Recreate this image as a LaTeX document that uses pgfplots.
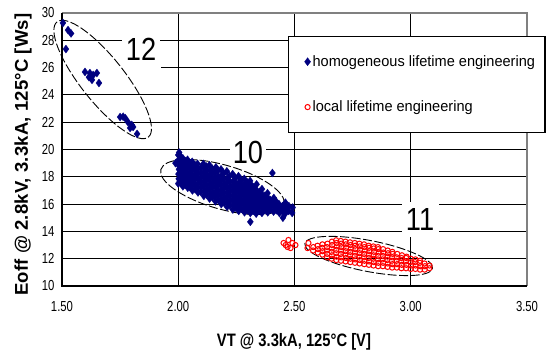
\documentclass[border=0pt]{standalone}
\usepackage{pgfplots}
\pgfplotsset{compat=1.18}
\usepackage{fontspec}
\setmainfont{Liberation Sans}
\newfontfamily\tickfont[FakeStretch=0.78]{Liberation Sans}
\newfontfamily\legfont[FakeStretch=0.97]{Liberation Sans}
\newfontfamily\labfont[FakeStretch=0.82]{Liberation Sans}
\newfontfamily\ylabfont[LetterSpace=1]{Liberation Sans}
\newfontfamily\annfont[FakeStretch=0.85]{Liberation Sans}
\usetikzlibrary{shapes.geometric}
\definecolor{navy}{HTML}{000080}
\definecolor{framegray}{HTML}{808080}

\pgfplotstableread{
x y
1.504 29.27
1.526 28.75
1.539 28.50
1.517 27.36
1.599 25.68
1.620 25.60
1.650 25.60
1.629 25.10
1.616 25.30
1.659 24.87
1.634 25.46
1.750 22.38
1.772 22.30
1.784 22.00
1.800 21.80
1.793 21.58
1.806 21.65
1.823 21.14
1.763 22.40
}\groupA

\pgfplotstableread{
x y
1.988 19.00
2.000 17.50
2.002 17.85
2.001 18.20
2.003 18.55
1.999 18.90
2.002 19.25
2.000 19.60
2.004 19.78
2.020 17.30
2.022 17.65
2.019 18.00
2.021 18.35
2.018 18.70
2.022 19.05
2.020 19.35
2.041 17.20
2.039 17.55
2.042 17.90
2.040 18.25
2.038 18.60
2.041 18.95
2.040 19.25
2.061 17.00
2.059 17.35
2.062 17.70
2.060 18.05
2.058 18.40
2.061 18.75
2.060 19.10
2.085 16.85
2.083 17.20
2.087 17.55
2.084 17.90
2.086 18.25
2.085 18.60
2.083 18.95
2.110 16.60
2.112 16.95
2.108 17.30
2.111 17.65
2.109 18.00
2.112 18.35
2.110 18.70
2.108 18.95
2.135 16.40
2.137 16.75
2.133 17.10
2.136 17.45
2.134 17.80
2.135 18.15
2.137 18.50
2.134 18.85
2.160 16.20
2.158 16.55
2.162 16.90
2.159 17.25
2.161 17.60
2.160 17.95
2.158 18.30
2.162 18.70
2.185 16.00
2.187 16.35
2.183 16.70
2.186 17.05
2.184 17.40
2.185 17.75
2.187 18.10
2.184 18.55
2.210 15.80
2.212 16.15
2.208 16.50
2.211 16.85
2.209 17.20
2.210 17.55
2.212 17.90
2.209 18.40
2.235 15.60
2.237 15.95
2.233 16.30
2.236 16.65
2.234 17.00
2.235 17.35
2.237 17.70
2.234 18.20
2.260 15.50
2.262 15.85
2.258 16.20
2.261 16.55
2.259 16.90
2.260 17.25
2.262 17.60
2.259 18.05
2.285 15.40
2.287 15.75
2.283 16.10
2.286 16.45
2.284 16.80
2.285 17.15
2.287 17.50
2.284 17.85
2.310 15.35
2.312 15.70
2.308 16.05
2.311 16.40
2.309 16.75
2.310 17.10
2.312 17.45
2.309 17.70
2.335 15.30
2.337 15.65
2.333 16.00
2.336 16.35
2.334 16.70
2.335 17.05
2.337 17.45
2.360 15.35
2.362 15.70
2.358 16.05
2.361 16.40
2.359 16.75
2.360 17.10
2.385 15.40
2.387 15.75
2.383 16.10
2.386 16.45
2.384 16.80
2.410 15.45
2.412 15.80
2.408 16.15
2.411 16.45
2.435 15.35
2.437 15.70
2.433 16.00
2.460 15.30
2.462 15.65
2.458 15.95
2.461 16.10
2.490 15.35
2.492 15.75
2.405 18.28
2.310 14.70
2.450 15.00
2.010 17.55
2.011 17.95
2.009 18.35
2.010 18.75
2.012 19.15
2.010 19.50
2.030 17.40
2.031 17.75
2.029 18.10
2.030 18.45
2.032 18.80
2.030 19.15
2.050 17.25
2.051 17.60
2.049 17.95
2.050 18.30
2.052 18.65
2.050 19.00
2.072 17.10
2.073 17.45
2.071 17.80
2.072 18.15
2.074 18.50
2.072 18.85
2.097 16.90
2.098 17.25
2.096 17.60
2.097 17.95
2.099 18.30
2.097 18.65
2.122 16.70
2.123 17.05
2.121 17.40
2.122 17.75
2.124 18.10
2.122 18.45
2.121 18.75
2.147 16.50
2.148 16.85
2.146 17.20
2.147 17.55
2.149 17.90
2.147 18.25
2.146 18.60
2.172 16.30
2.173 16.65
2.171 17.00
2.172 17.35
2.174 17.70
2.172 18.05
2.171 18.45
2.197 16.10
2.198 16.45
2.196 16.80
2.197 17.15
2.199 17.50
2.197 17.85
2.196 18.25
2.222 15.90
2.223 16.25
2.221 16.60
2.222 16.95
2.224 17.30
2.222 17.65
2.221 18.05
2.247 15.75
2.248 16.10
2.246 16.45
2.247 16.80
2.249 17.15
2.247 17.50
2.246 17.90
2.272 15.65
2.273 16.00
2.271 16.35
2.272 16.70
2.274 17.05
2.272 17.40
2.271 17.75
2.297 15.55
2.298 15.90
2.296 16.25
2.297 16.60
2.299 16.95
2.297 17.30
2.296 17.60
2.322 15.50
2.323 15.85
2.321 16.20
2.322 16.55
2.324 16.90
2.322 17.25
2.347 15.50
2.348 15.85
2.346 16.20
2.347 16.55
2.349 16.90
2.372 15.55
2.373 15.90
2.371 16.25
2.372 16.60
2.397 15.60
2.398 15.95
2.396 16.30
2.422 15.55
2.423 15.90
2.421 16.20
2.447 15.50
2.448 15.85
2.475 15.50
2.476 15.85
}\groupB

\pgfplotstableread{
x y
2.453 13.15
2.474 13.37
2.491 13.15
2.504 13.00
2.470 12.86
2.483 12.78
2.462 13.00
2.560 13.15
2.556 12.78
2.580 12.60
2.581 12.85
2.600 12.45
2.601 12.70
2.599 12.95
2.620 12.30
2.621 12.55
2.619 12.80
2.620 13.05
2.640 12.10
2.641 12.35
2.639 12.60
2.640 12.85
2.642 13.10
2.660 12.00
2.661 12.25
2.659 12.50
2.660 12.75
2.662 13.00
2.661 13.25
2.680 11.90
2.681 12.15
2.679 12.40
2.680 12.65
2.682 12.90
2.681 13.15
2.679 13.35
2.700 11.85
2.701 12.10
2.699 12.35
2.700 12.60
2.702 12.85
2.701 13.10
2.699 13.30
2.720 11.80
2.721 12.05
2.719 12.30
2.720 12.55
2.722 12.80
2.721 13.05
2.719 13.25
2.740 11.75
2.741 12.00
2.739 12.25
2.740 12.50
2.742 12.75
2.741 13.00
2.739 13.20
2.760 11.70
2.761 11.95
2.759 12.20
2.760 12.45
2.762 12.70
2.761 12.95
2.759 13.15
2.780 11.65
2.781 11.90
2.779 12.15
2.780 12.40
2.782 12.65
2.781 12.90
2.779 13.10
2.800 11.60
2.801 11.85
2.799 12.10
2.800 12.35
2.802 12.60
2.801 12.85
2.799 13.05
2.820 11.55
2.821 11.80
2.819 12.05
2.820 12.30
2.822 12.55
2.821 12.80
2.819 12.95
2.840 11.50
2.841 11.75
2.839 12.00
2.840 12.25
2.842 12.50
2.841 12.75
2.839 12.90
2.860 11.45
2.861 11.70
2.859 11.95
2.860 12.20
2.862 12.45
2.861 12.70
2.859 12.85
2.880 11.45
2.881 11.70
2.879 11.95
2.880 12.20
2.882 12.45
2.881 12.70
2.900 11.40
2.901 11.65
2.899 11.90
2.900 12.15
2.902 12.40
2.901 12.60
2.920 11.35
2.921 11.60
2.919 11.85
2.920 12.10
2.922 12.35
2.921 12.50
2.940 11.35
2.941 11.60
2.939 11.85
2.940 12.10
2.942 12.35
2.960 11.30
2.961 11.55
2.959 11.80
2.960 12.05
2.962 12.25
2.980 11.30
2.981 11.55
2.979 11.80
2.980 12.05
2.982 12.15
3.000 11.25
3.001 11.50
2.999 11.75
3.000 12.00
3.020 11.25
3.021 11.50
3.019 11.75
3.020 11.95
3.040 11.20
3.041 11.45
3.039 11.70
3.040 11.85
3.060 11.20
3.061 11.45
3.059 11.65
3.080 11.30
3.081 11.50
}\groupC

\begin{document}
\begin{tikzpicture}
\begin{axis}[
  name=ax, at={(0,0)}, anchor=south west,
  scale only axis, width=465pt, height=273pt,
  xmin=1.5, xmax=3.5, ymin=10, ymax=30,
  xtick={1.5,2,2.5,3,3.5}, ytick={10,12,...,30},
  xticklabel style={yshift=-12pt, /pgf/number format/fixed, /pgf/number format/fixed zerofill, /pgf/number format/precision=2},
  yticklabel style={xshift=-4pt},
  tick style={draw=none},
  major tick length=0pt,
  grid=major, grid style={black, line width=1.2pt},
  axis line style={draw=none},
  clip=false,
  ticklabel style={font=\tickfont\fontsize{14.5}{16}\selectfont},
  /pgf/number format/assume math mode=true,
  legend style={at={(rel axis cs:0.486,0.916)}, anchor=north west,
    draw=black, line width=1.2pt, fill=white,
    font=\legfont\fontsize{15}{17}\selectfont,
    row sep=29pt, inner xsep=8pt, inner ysep=17pt, cells={anchor=west}},
  legend image code/.code={\path[draw=none] (0pt,0pt) -- (14pt,0pt);
     \draw[#1, only marks] plot coordinates {(11pt,0pt)};},
]
% white patch hiding part of a grid line, as in the reference
\fill[white] (axis cs:1.503,25.88) rectangle (axis cs:1.925,26.12);
% dashed ellipses
\node[draw=black, dash pattern=on 9pt off 2.5pt, line width=0.9pt, ellipse, inner sep=0pt,
      minimum width=147pt, minimum height=44pt, rotate=-51.6] at (axis cs:1.675,25.13) {};
\node[draw=black, dash pattern=on 9pt off 2.5pt, line width=0.9pt, ellipse, inner sep=0pt,
      minimum width=128pt, minimum height=44pt, rotate=-16] at (axis cs:2.19,17.25) {};
\node[draw=black, dash pattern=on 9pt off 2.5pt, line width=0.9pt, ellipse, inner sep=0pt,
      minimum width=130pt, minimum height=31pt, rotate=-11] at (axis cs:2.819,12.2) {};

\addplot[only marks, mark=diamond*, mark size=4pt, color=navy, mark options={line width=0.3pt}, forget plot] table {\groupA};
\addplot[only marks, mark=diamond*, mark size=4pt, color=navy, mark options={line width=0.3pt}] table {\groupB};
\addlegendentry{homogeneous lifetime engineering}
\addplot[only marks, mark=o, mark size=2.6pt, color=red, mark options={line width=1pt}] table {\groupC};
\addlegendentry{local lifetime engineering}

% annotations
\node[fill=white, inner sep=0pt, minimum width=38pt, minimum height=30pt, font=\annfont\fontsize{32}{34}\selectfont] at (axis cs:1.84,27.36) {12};
\node[fill=white, inner sep=0pt, minimum width=36pt, minimum height=26pt, font=\annfont\fontsize{32}{34}\selectfont] at (axis cs:2.30,19.78) {10};
\node[fill=white, inner sep=0pt, minimum width=37pt, minimum height=35pt, font=\annfont\fontsize{32}{34}\selectfont] at (axis cs:3.04,14.84) {11};

% frame
\draw[framegray, line width=2pt] (rel axis cs:0,1) -- (rel axis cs:1,1) -- (rel axis cs:1,0);
\draw[black, line width=2.4pt] (rel axis cs:0,1) -- (rel axis cs:0,0) -- (rel axis cs:1,0);
\end{axis}
\node[rotate=90, anchor=base west, inner sep=0pt, font=\ylabfont\bfseries\fontsize{18.5}{22}\selectfont] at (-34pt,-10pt) {Eoff @ 2.8kV, 3.3kA, 125°C [Ws]};
\node[anchor=base, inner sep=0pt, font=\labfont\bfseries\fontsize{18}{20}\selectfont] at (232pt,-60pt) {VT @ 3.3kA, 125°C [V]};
\pgfresetboundingbox
\useasboundingbox (-62pt,-70pt) rectangle (489pt,286pt);
\end{tikzpicture}
\end{document}
